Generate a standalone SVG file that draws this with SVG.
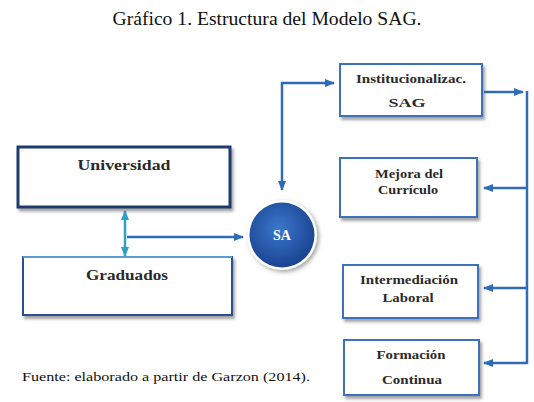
<svg xmlns="http://www.w3.org/2000/svg" width="534" height="402" viewBox="0 0 534 402">
<style>
.title{font-family:"Liberation Serif",serif;font-size:19px;fill:#111}
.foot{font-family:"Liberation Serif",serif;font-size:13.5px;fill:#111}
.lbl{font-family:"Liberation Serif",serif;font-weight:bold;font-size:13.5px;fill:#2a2a2a;text-anchor:middle}
.big{font-size:15px}
.box{fill:#fff;stroke:#3b72bb;stroke-width:2}
.navy{fill:#fff;stroke:#1f3a6e;stroke-width:3}
.conn{fill:none;stroke:#2e6cb5;stroke-width:2.5}
.teal{fill:none;stroke:#2ea0c6;stroke-width:2.5}
</style>
<defs>
<filter id="sh" x="-10%" y="-10%" width="130%" height="140%">
<feDropShadow dx="2" dy="3" stdDeviation="1.5" flood-color="#555" flood-opacity="0.55"/>
</filter>
<filter id="csh" x="-30%" y="-30%" width="160%" height="160%">
<feDropShadow dx="2" dy="2" stdDeviation="2" flood-color="#666" flood-opacity="0.6"/>
</filter>
<radialGradient id="cg" cx="45%" cy="40%" r="65%">
<stop offset="0" stop-color="#3b78cc"/>
<stop offset="1" stop-color="#173f8c"/>
</radialGradient>
<marker id="ab" markerUnits="userSpaceOnUse" markerWidth="10" markerHeight="10" refX="9" refY="5" orient="auto">
<path d="M0,1 L10,5 L0,9 Z" fill="#2e6cb5"/>
</marker>
<marker id="at" markerUnits="userSpaceOnUse" markerWidth="10" markerHeight="10" refX="9" refY="5" orient="auto-start-reverse">
<path d="M0,1 L10,5 L0,9 Z" fill="#2ea0c6"/>
</marker>
</defs>

<text class="title" x="267" y="25" text-anchor="middle" textLength="309" lengthAdjust="spacingAndGlyphs">Gráfico 1. Estructura del Modelo SAG.</text>

<g id="connectors">
<path class="conn" d="M282,83 H334" marker-end="url(#ab)"/>
<path class="conn" d="M282,82 V190" marker-end="url(#ab)"/>
<path class="conn" d="M484,92 H523" marker-end="url(#ab)"/>
<path class="conn" d="M527,91 V364"/>
<path class="conn" d="M527,188 H484" marker-end="url(#ab)"/>
<path class="conn" d="M527,288 H484" marker-end="url(#ab)"/>
<path class="conn" d="M527,363 H484" marker-end="url(#ab)"/>
<path class="teal" d="M125,211 V256" marker-start="url(#at)" marker-end="url(#at)"/>
<path class="conn" d="M127,237 H243" marker-end="url(#ab)"/>
</g>

<g id="universidad">
<rect class="navy" x="18" y="147" width="212" height="60" filter="url(#sh)"/>
<text class="lbl big" x="124" y="170" textLength="93" lengthAdjust="spacingAndGlyphs">Universidad</text>
</g>

<g id="graduados">
<rect class="box" x="23" y="257" width="209" height="58" filter="url(#sh)" style="stroke:#2f4f8f"/>
<line x1="23" y1="257" x2="232" y2="257" stroke="#5b9bd5" stroke-width="2"/>
<text class="lbl big" x="127" y="280" textLength="82" lengthAdjust="spacingAndGlyphs">Graduados</text>
</g>

<g id="sa">
<circle cx="282" cy="235" r="35" fill="#fff" filter="url(#csh)"/>
<circle cx="282" cy="235" r="32.5" fill="url(#cg)"/>
<text x="282" y="240" text-anchor="middle" font-family="Liberation Serif, serif" font-weight="bold" font-size="14" fill="#fff">SA</text>
</g>

<g id="institucionalizac">
<rect class="box" x="340" y="64" width="142" height="52" filter="url(#sh)"/>
<text class="lbl" x="411" y="83" textLength="110" lengthAdjust="spacingAndGlyphs">Institucionalizac.</text>
<text class="lbl" x="407" y="107" textLength="37" lengthAdjust="spacingAndGlyphs">SAG</text>
</g>

<g id="mejora">
<rect class="box" x="340" y="158" width="137" height="59" filter="url(#sh)"/>
<text class="lbl" x="409" y="178" textLength="68" lengthAdjust="spacingAndGlyphs">Mejora del</text>
<text class="lbl" x="408" y="194" textLength="60" lengthAdjust="spacingAndGlyphs">Currículo</text>
</g>

<g id="intermediacion">
<rect class="box" x="343" y="265" width="135" height="53" filter="url(#sh)"/>
<text class="lbl" x="409" y="284" textLength="98" lengthAdjust="spacingAndGlyphs">Intermediación</text>
<text class="lbl" x="408" y="302" textLength="51" lengthAdjust="spacingAndGlyphs">Laboral</text>
</g>

<g id="formacion">
<rect class="box" x="344" y="340" width="135" height="55" filter="url(#sh)"/>
<text class="lbl" x="411" y="359" textLength="69" lengthAdjust="spacingAndGlyphs">Formación</text>
<text class="lbl" x="412" y="384" textLength="60" lengthAdjust="spacingAndGlyphs">Continua</text>
</g>

<text class="foot" x="22" y="381" textLength="288" lengthAdjust="spacingAndGlyphs">Fuente: elaborado a partir de Garzon (2014).</text>
</svg>
